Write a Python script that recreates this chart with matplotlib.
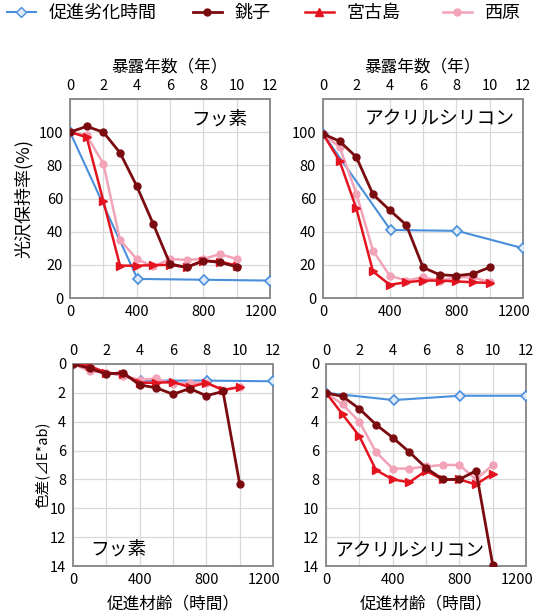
import matplotlib
matplotlib.use("Agg")
import matplotlib.pyplot as plt
import matplotlib.transforms as mtransforms
from matplotlib.lines import Line2D

plt.rcParams['font.family'] = ['Noto Sans CJK JP', 'DejaVu Sans']

# 系列名
names = ["促進劣化時間", "銚子", "宮古島", "西原"]
colors = ["#4a8fdb", "#7a0c10", "#e3141f", "#f2a3b8"]

# 促進劣化時間（時間）
accel_hours = [0, 405, 805, 1200]
# 暴露年数（年）
years = [0, 1, 2, 3, 4, 5, 6, 7, 8, 9, 10]

# 光沢保持率(%) フッ素
gloss_f_accel = [100, 11.5, 11, 10.5]
gloss_f_choshi = [100, 103.5, 100, 87.6, 67.6, 44.5, 20.5, 18.5, 22.5, 21.5, 18.8]
gloss_f_miyako = [100, 97, 58.5, 19.5, 19.5, 19.8, 20, 18.5, 22.5, 22, 19.5]
gloss_f_nishihara = [100, 98, 81, 35, 23.5, 19, 23.5, 23, 23.5, 26.5, 23.5]

# 光沢保持率(%) アクリルシリコン
gloss_a_accel = [99, 41, 40.5, 30]
gloss_a_choshi = [99, 94.5, 85, 62.5, 53, 44, 18.5, 14, 13.5, 14.5, 18.5]
gloss_a_miyako = [99, 82.5, 54, 16, 8, 9.5, 10.5, 10.5, 10, 9.5, 9]
gloss_a_nishihara = [99, 91, 63, 28.5, 13.5, 10.5, 12.5, 10.5, 12.5, 12.5, 9.5]

# 色差 フッ素
de_f_accel = [0, 1.15, 1.15, 1.2]
de_f_choshi = [0, 0.3, 0.7, 0.6, 1.45, 1.65, 2.1, 1.7, 2.2, 1.9, 8.3]
de_f_miyako = [0, 0.15, 0.6, 0.7, 1.3, 1.3, 1.25, 1.6, 1.3, 1.8, 1.6]
de_f_nishihara = [0, 0.5, 0.6, 0.8, 1.1, 1.0, 1.4, 1.3, 1.3, 1.8, 1.6]

# 色差 アクリルシリコン
de_a_accel = [2.0, 2.5, 2.2, 2.2]
de_a_choshi = [2.0, 2.25, 3.1, 4.2, 5.1, 6.1, 7.2, 8.0, 8.0, 7.4, 13.9]
de_a_miyako = [2.0, 3.5, 5.0, 7.35, 8.0, 8.2, 7.4, 8.0, 8.0, 8.35, 7.6]
de_a_nishihara = [2.0, 2.8, 4.0, 6.1, 7.25, 7.25, 7.1, 7.0, 7.0, 8.0, 7.0]

fig = plt.figure(figsize=(5.39, 6.16), dpi=100)

W, H = 539, 616


def make_axes(left, top, right, bottom):
    return fig.add_axes([left / W, 1 - bottom / H, (right - left) / W, (bottom - top) / H])


def draw_panel(ax, accel, choshi, miyako, nishihara):
    x_exp = [y * 100 for y in years]
    ax.plot(accel_hours, accel, color=colors[0], lw=1.5, marker="D", ms=5,
            mfc="#dfeaf7", mec=colors[0], mew=1.2, zorder=3)
    ax.plot(x_exp, nishihara, color=colors[3], lw=1.8, marker="o", ms=5, zorder=4)
    ax.plot(x_exp, miyako, color=colors[2], lw=1.8, marker=">", ms=6, zorder=5)
    ax.plot(x_exp, choshi, color=colors[1], lw=2.0, marker="o", ms=5, zorder=6)
    ax.set_xlim(0, 1200)
    ax.set_xticks([0, 400, 800, 1200])
    ax.set_xticks([200, 600, 1000], minor=True)
    ax.grid(True, which="both", color="#d9d9d9", lw=0.9)
    ax.set_axisbelow(True)
    ax.tick_params(axis="both", which="both", length=0, labelsize=10.5, pad=5)
    # 1200 のラベルを少し左へ
    off = mtransforms.ScaledTranslation(-0.09, 0, fig.dpi_scale_trans)
    lab = ax.xaxis.get_major_ticks()[-1].label1
    lab.set_transform(lab.get_transform() + off)
    for s in ax.spines.values():
        s.set_color("#8c8c8c")
        s.set_linewidth(1.4)
    sec = ax.secondary_xaxis("top", functions=(lambda v: v / 100, lambda v: v * 100))
    sec.set_xticks([0, 2, 4, 6, 8, 10, 12])
    sec.tick_params(length=0, labelsize=10.5, pad=4)
    sec.spines["top"].set_visible(False)
    return sec


# 上段：光沢保持率
ax1 = make_axes(70, 99, 270, 298)
ax2 = make_axes(323, 99, 523, 298)
for ax, data in [(ax1, (gloss_f_accel, gloss_f_choshi, gloss_f_miyako, gloss_f_nishihara)),
                 (ax2, (gloss_a_accel, gloss_a_choshi, gloss_a_miyako, gloss_a_nishihara))]:
    sec = draw_panel(ax, *data)
    ax.set_ylim(0, 120)
    ax.set_yticks([0, 20, 40, 60, 80, 100])
    ax.set_yticks([120], minor=True)
    sec.set_xlabel("暴露年数（年）", fontsize=12, labelpad=6)
ax1.set_ylabel("光沢保持率(%)", fontsize=13, labelpad=4)
ax1.text(0.89, 0.895, "フッ素", transform=ax1.transAxes, ha="right", va="center", fontsize=13.5)
ax2.text(0.96, 0.905, "アクリルシリコン", transform=ax2.transAxes, ha="right", va="center", fontsize=13.5)

# 下段：色差
ax3 = make_axes(73, 364, 273, 566)
ax4 = make_axes(326, 364, 526, 566)
for ax, data in [(ax3, (de_f_accel, de_f_choshi, de_f_miyako, de_f_nishihara)),
                 (ax4, (de_a_accel, de_a_choshi, de_a_miyako, de_a_nishihara))]:
    draw_panel(ax, *data)
    ax.set_ylim(14, 0)
    ax.set_yticks([0, 2, 4, 6, 8, 10, 12, 14])
    ax.set_xlabel("促進材齢（時間）", fontsize=12, labelpad=6)
ax3.set_ylabel("色差(⊿E*ab)", fontsize=10.5, labelpad=0)
ax3.text(0.085, 0.08, "フッ素", transform=ax3.transAxes, ha="left", va="center", fontsize=13.5)
ax4.text(0.045, 0.08, "アクリルシリコン", transform=ax4.transAxes, ha="left", va="center", fontsize=13.5)

# 凡例（項目ごとに位置を合わせる）
handles = [
    Line2D([], [], color=colors[0], lw=1.5, marker="D", ms=5, mfc="#dfeaf7", mec=colors[0]),
    Line2D([], [], color=colors[1], lw=2, marker="o", ms=5),
    Line2D([], [], color=colors[2], lw=1.8, marker="^", ms=6),
    Line2D([], [], color=colors[3], lw=1.8, marker="o", ms=5),
]
legend_x = [7, 193, 305, 443]
for h, name, lx in zip(handles, names, legend_x):
    leg = fig.legend([h], [name], loc="upper left", bbox_to_anchor=(lx / W, 1 - 4 / H),
                     frameon=False, fontsize=13, handlelength=1.6,
                     handletextpad=0.7, borderaxespad=0, borderpad=0)

fig.savefig("out.png", dpi=100)
